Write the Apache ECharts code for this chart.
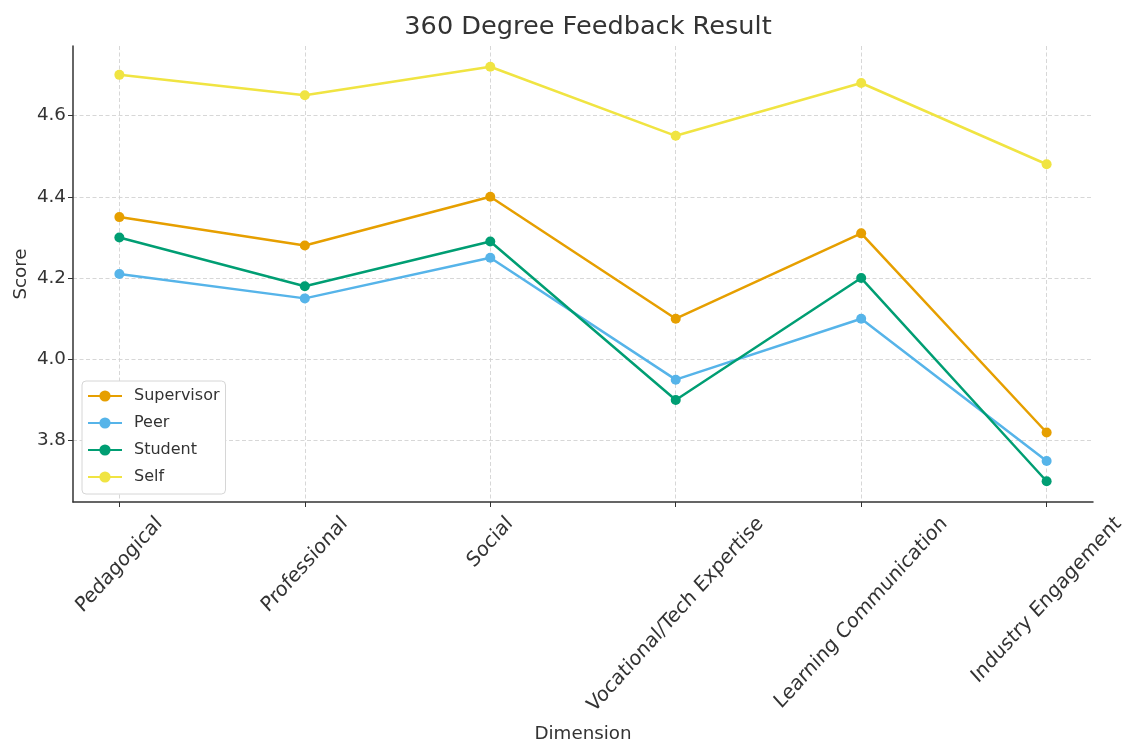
<!DOCTYPE html>
<html>
<head>
<meta charset="utf-8">
<script src="https://cdn.jsdelivr.net/npm/echarts@6/dist/echarts.min.js"></script>
<style>
  html, body { margin: 0; padding: 0; background: #ffffff; }
  #chart { width: 1128px; height: 745px; }
</style>
</head>
<body>
<div id="chart"></div>
<script>
// Feedback dimensions (x categories) and mean scores per rater group
const dimensions = ['Pedagogical', 'Professional', 'Social', 'Vocational/Tech Expertise', 'Learning Communication', 'Industry Engagement'];
const supervisorScores = [4.35, 4.28, 4.40, 4.10, 4.31, 3.82];
const peerScores = [4.21, 4.15, 4.25, 3.95, 4.10, 3.75];
const studentScores = [4.30, 4.18, 4.29, 3.90, 4.20, 3.70];
const selfScores = [4.70, 4.65, 4.72, 4.55, 4.68, 4.48];
const scoreTicks = [3.8, 4.0, 4.2, 4.4, 4.6];

const FONT = '"DejaVu Sans", "Liberation Sans", sans-serif';
const TEXT = '#333333';
const AXIS = '#333333';
const GRID = '#d2d2d2';
const LABEL_SIZE = 18.3;
const CAT_SIZE = 18.8;

// Axis extents padded by 5% of the data span on each side
const allScores = supervisorScores.concat(peerScores, studentScores, selfScores);
const dMin = Math.min.apply(null, allScores), dMax = Math.max.apply(null, allScores);
const yPad = (dMax - dMin) * 0.05;
const yMin = dMin - yPad, yMax = dMax + yPad;
const xPad = (dimensions.length - 1) * 0.05;
const xIdx = dimensions.map((_, i) => i);

const toPairs = arr => arr.map((v, i) => [i, v]);

const groups = [
  { name: 'Supervisor', data: supervisorScores, color: '#E69F00' },
  { name: 'Peer', data: peerScores, color: '#56B4E9' },
  { name: 'Student', data: studentScores, color: '#009E73' },
  { name: 'Self', data: selfScores, color: '#F0E442' }
];

const chart = echarts.init(document.getElementById('chart'), null, { renderer: 'canvas' });

const dashed = { color: GRID, width: 0.9, type: [4, 2.5] };

const option = {
  backgroundColor: '#ffffff',
  animation: false,
  textStyle: { fontFamily: FONT },
  title: {
    text: '360 Degree Feedback Result',
    left: 583,
    textAlign: 'center',
    top: 9,
    textStyle: { fontFamily: FONT, fontSize: 25.6, fontWeight: 'normal', color: TEXT }
  },
  grid: { left: 73, right: 35, top: 46, bottom: 243, containLabel: false, outerBoundsMode: 'none' },
  xAxis: {
    type: 'value',
    min: -xPad,
    max: dimensions.length - 1 + xPad,
    name: 'Dimension',
    nameLocation: 'middle',
    nameGap: 223,
    nameMoveOverlap: false,
    nameTextStyle: { fontFamily: FONT, fontSize: LABEL_SIZE, color: TEXT },
    axisLine: { show: true, onZero: false, lineStyle: { color: AXIS, width: 1.5 } },
    axisTick: { show: true, customValues: xIdx, length: 5, lineStyle: { color: AXIS, width: 1 } },
    axisLabel: { show: false },
    splitLine: { show: true, lineStyle: dashed }
  },
  yAxis: {
    type: 'value',
    min: yMin,
    max: yMax,
    name: 'Score',
    nameLocation: 'middle',
    nameGap: 43,
    nameMoveOverlap: false,
    nameTextStyle: { fontFamily: FONT, fontSize: LABEL_SIZE, color: TEXT },
    axisLine: { show: true, onZero: false, lineStyle: { color: AXIS, width: 1.5 } },
    axisTick: { show: true, customValues: scoreTicks, length: 5, lineStyle: { color: AXIS, width: 1 } },
    axisLabel: {
      customValues: scoreTicks,
      formatter: v => v.toFixed(1),
      fontFamily: FONT, fontSize: LABEL_SIZE, color: TEXT, margin: 7
    },
    splitLine: { show: true, lineStyle: dashed }
  },
  legend: {
    orient: 'vertical',
    left: 82,
    top: 381,
    padding: [7, 6, 9, 5],
    itemWidth: 34,
    itemHeight: 14,
    itemGap: 11,
    backgroundColor: '#ffffff',
    borderColor: '#d6d6d6',
    borderWidth: 1,
    borderRadius: 4,
    textStyle: { fontFamily: FONT, fontSize: 16, lineHeight: 16, color: TEXT, padding: [0, 0, 0, 7] },
    data: groups.map(g => g.name)
  },
  series: groups.map(g => ({
    name: g.name,
    type: 'line',
    data: toPairs(g.data),
    symbol: 'circle',
    symbolSize: 10,
    color: g.color,
    lineStyle: { color: g.color, width: 2.5 },
    itemStyle: { color: g.color },
    emphasis: { disabled: true }
  }))
};

chart.setOption(option);

// Rotated category labels, each centred under its tick with its top edge just below the axis.
// Each label sits in a group that is stretched slightly in the vertical direction.
const ctx = document.createElement('canvas').getContext('2d');
ctx.font = CAT_SIZE + 'px ' + FONT;
const axisY = chart.convertToPixel({ yAxisIndex: 0 }, yMin);
const gap = 10;
const stretch = 1.11;
const lineH = CAT_SIZE * 1.17;
const labelEls = dimensions.map((name, i) => {
  const x = chart.convertToPixel({ xAxisIndex: 0 }, i);
  const w = ctx.measureText(name).width;
  const half = (w + lineH) / (2 * Math.SQRT2);
  return {
    type: 'group',
    x: x,
    y: axisY + gap + half * stretch,
    scaleY: stretch,
    silent: true,
    children: [{
      type: 'text',
      rotation: Math.PI / 4,
      silent: true,
      style: {
        text: name,
        fontFamily: FONT,
        fontSize: CAT_SIZE,
        fill: TEXT,
        align: 'center',
        verticalAlign: 'middle'
      }
    }]
  };
});
chart.setOption({ graphic: labelEls });
</script>
</body>
</html>
